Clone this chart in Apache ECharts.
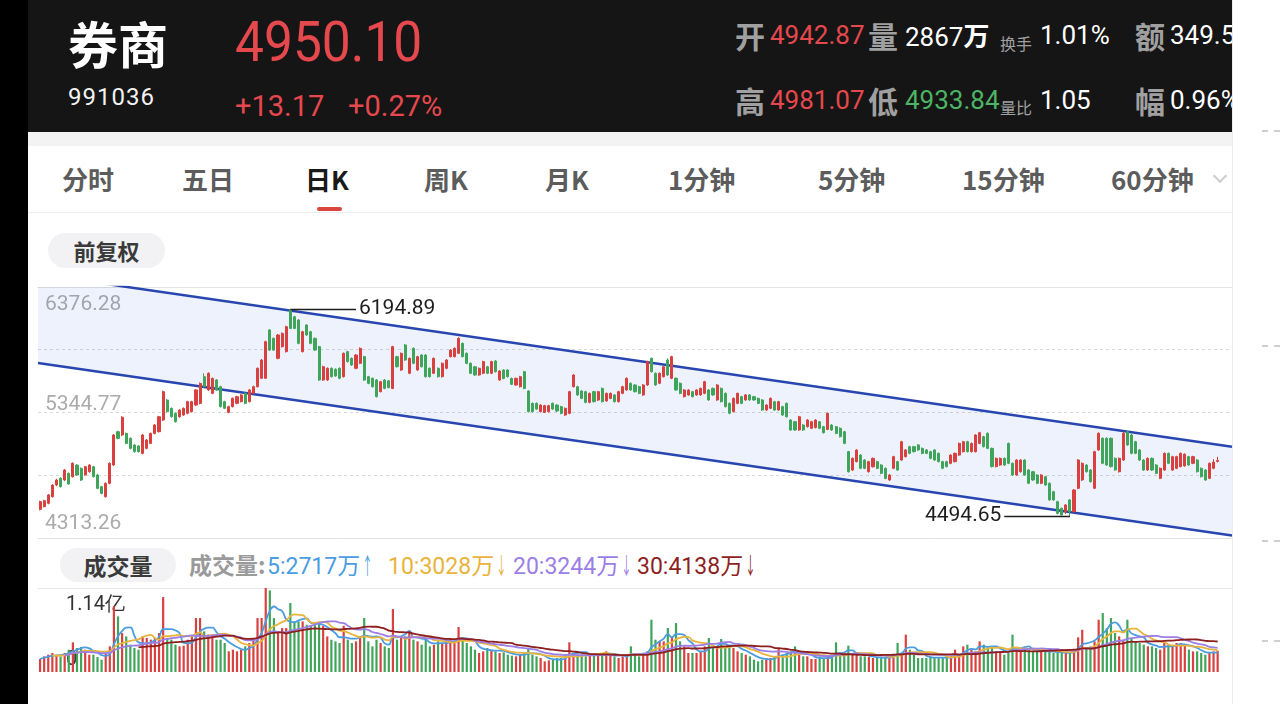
<!DOCTYPE html>
<html>
<head>
<meta charset="utf-8">
<script src="https://cdn.jsdelivr.net/npm/echarts/dist/echarts.min.js"></script>
<style>
html,body{margin:0;padding:0;width:1280px;height:704px;overflow:hidden;background:#fff;font-family:'Noto Sans CJK SC',Roboto,sans-serif;}
.a{position:absolute;white-space:nowrap;line-height:1;}
.n{font-family:Roboto,'Noto Sans CJK SC',sans-serif;}
.lb{font-size:30px;font-weight:700;color:#a0a0a0;}
.v{font-size:26px;}
.sm{font-size:16px;color:#a0a0a0;}
.tab{font-size:26px;font-weight:700;color:#5c5c5c;top:166px;}
.pill{position:absolute;background:#f2f2f4;color:#3a3a3a;font-weight:700;text-align:center;}
.lg{top:553px;font-size:23px;}
.ar{display:inline-block;transform:scaleX(0.45);margin-left:-4px;margin-right:-5px;}
#chart{position:absolute;left:0;top:0;width:1280px;height:704px;}
</style>
</head>
<body>
<div class="a" style="left:0;top:0;width:28px;height:704px;background:#000"></div>
<div class="a" style="left:28px;top:0;width:1204px;height:132px;background:#151515;overflow:hidden">
  <div class="a" style="left:40px;top:17px;font-size:50px;font-weight:700;color:#fff">券商</div>
  <div class="a n" style="left:40px;top:85px;font-size:24px;color:#f2f2f2;letter-spacing:1px">991036</div>
  <div class="a n" style="left:207px;top:14px;font-size:56px;color:#e5484d;transform:scaleX(0.92);transform-origin:left center">4950.10</div>
  <div class="a n" style="left:207px;top:92px;font-size:29px;color:#e5484d">+13.17</div>
  <div class="a n" style="left:320px;top:92px;font-size:29px;color:#e5484d">+0.27%</div>

  <div class="a lb" style="left:707px;top:20px">开</div>
  <div class="a n v" style="left:742px;top:22px;color:#e5484d">4942.87</div>
  <div class="a lb" style="left:840px;top:20px">量</div>
  <div class="a v" style="left:877px;top:22px;color:#fff"><span class="n">2867</span><span style="font-weight:700">万</span></div>
  <div class="a sm" style="left:972px;top:35px">换手</div>
  <div class="a n v" style="left:1012px;top:22px;color:#fff">1.01%</div>
  <div class="a lb" style="left:1107px;top:20px">额</div>
  <div class="a n v" style="left:1142px;top:22px;color:#fff">349.5</div>

  <div class="a lb" style="left:707px;top:85px">高</div>
  <div class="a n v" style="left:742px;top:87px;color:#e5484d">4981.07</div>
  <div class="a lb" style="left:840px;top:85px">低</div>
  <div class="a n v" style="left:877px;top:87px;color:#4cb464">4933.84</div>
  <div class="a sm" style="left:972px;top:99px">量比</div>
  <div class="a n v" style="left:1012px;top:87px;color:#fff">1.05</div>
  <div class="a lb" style="left:1107px;top:85px">幅</div>
  <div class="a n v" style="left:1142px;top:87px;color:#fff">0.96%</div>
</div>
<div class="a" style="left:28px;top:132px;width:1204px;height:14px;background:#f3f3f3"></div>
<div class="a" style="left:1232px;top:0;width:48px;height:704px;background:#fff;border-left:1px solid #ececec"></div>
<div class="a" style="left:1262px;top:130px;width:18px;border-top:2px dashed #cfcfcf"></div>
<div class="a" style="left:1262px;top:345px;width:18px;border-top:2px dashed #cfcfcf"></div>
<div class="a" style="left:1262px;top:540px;width:18px;border-top:2px dashed #cfcfcf"></div>
<div class="a" style="left:1262px;top:640px;width:18px;border-top:2px dashed #cfcfcf"></div>

<div class="a tab" style="left:62px">分时</div>
<div class="a tab" style="left:182px">五日</div>
<div class="a tab" style="left:305px;color:#1a1a1a">日K</div>
<div class="a tab" style="left:424px">周K</div>
<div class="a tab" style="left:545px">月K</div>
<div class="a tab" style="left:668px">1分钟</div>
<div class="a tab" style="left:818px">5分钟</div>
<div class="a tab" style="left:962px">15分钟</div>
<div class="a tab" style="left:1111px">60分钟</div>
<div class="a" style="left:1215px;top:171px;width:8px;height:8px;border-right:2px solid #cccccc;border-bottom:2px solid #cccccc;transform:rotate(45deg)"></div>
<div class="a" style="left:317px;top:207px;width:25px;height:4px;border-radius:2px;background:#d9453f"></div>
<div class="a" style="left:28px;top:212px;width:1204px;height:1px;background:#ededed"></div>

<div class="pill" style="left:48px;top:233px;width:117px;height:35px;line-height:35px;border-radius:18px;font-size:22px">前复权</div>
<div class="pill" style="left:60px;top:548px;width:116px;height:34px;line-height:34px;border-radius:17px;font-size:23px">成交量</div>
<div class="a lg" style="left:189px;color:#9a9a9a;font-weight:700">成交量:</div>
<div class="a lg" style="left:267px;color:#4a9de0"><span class="n">5:2717</span>万<span class="ar">↑</span></div>
<div class="a lg" style="left:388px;color:#e9b33c"><span class="n">10:3028</span>万<span class="ar">↓</span></div>
<div class="a lg" style="left:513px;color:#9b7ee6"><span class="n">20:3244</span>万<span class="ar">↓</span></div>
<div class="a lg" style="left:637px;color:#8e1f1f"><span class="n">30:4138</span>万<span class="ar">↓</span></div>
<div class="a" style="left:38px;top:588px;width:1194px;height:1px;background:#e6e6e6"></div>

<div id="chart"></div>
<script>
// ---------- data ----------
const opens = [
4549,4571,4598,4653,4749,4804,4790,4845,4817,4913,
4886,4831,4858,4899,4831,4735,4653,4762,4913,5187,
5160,5173,5132,5078,5070,5009,5050,5091,5173,5187,
5283,5447,5379,5338,5310,5324,5338,5351,5406,5420,
5639,5530,5502,5612,5557,5434,5346,5393,5420,5434,
5502,5434,5502,5557,5626,5626,6023,5954,5790,5886,
5845,6187,6132,6105,5845,6064,6009,5954,5886,5612,
5612,5708,5700,5708,5639,5845,5790,5708,5749,5804,
5639,5626,5612,5516,5612,5605,5543,5804,5694,5900,
5667,5872,5694,5817,5817,5708,5667,5708,5639,5708,
5804,5804,5831,5913,5831,5749,5721,5653,5667,5721,
5667,5768,5612,5694,5694,5625,5571,5557,5680,5521,
5420,5420,5352,5346,5352,5420,5406,5393,5324,5338,
5557,5557,5521,5516,5428,5516,5447,5543,5440,5461,
5489,5434,5502,5530,5585,5571,5557,5489,5571,5790,
5667,5585,5639,5776,5626,5626,5585,5475,5489,5516,
5489,5489,5502,5530,5543,5448,5543,5502,5420,5352,
5420,5475,5448,5489,5475,5461,5448,5365,5379,5434,
5365,5393,5420,5283,5269,5201,5242,5228,5215,5221,
5269,5228,5206,5242,5228,5215,5187,5023,4872,4941,
4995,4954,4858,4899,4941,4913,4886,4790,4886,4941,
4954,4982,5064,5064,5078,5050,5037,5023,5037,5009,
4941,4941,4927,4941,4995,5023,5105,5023,5023,5091,
5146,5174,5050,4900,4913,4968,5091,4927,4831,4858,
4954,4872,4858,4831,4763,4817,4763,4694,4612,4557,
4530,4626,4530,4722,4790,4913,4872,4722,5037,5133,
5133,5133,4968,4858,4954,5187,5160,5105,5037,4954,
4872,4968,4913,4804,4872,5009,4872,4886,4900,4906,
4982,4927,4954,4886,4872,4804,4886,4942.87
];
const closes = [
4612,4620,4667,4749,4790,4735,4872,4757,4927,4831,
4790,4899,4913,4817,4721,4680,4762,4927,5160,5132,
5305,5091,5050,5023,5023,5160,5119,5173,5242,5310,
5516,5351,5310,5269,5365,5379,5434,5434,5530,5584,
5557,5667,5625,5530,5393,5379,5393,5461,5475,5489,
5420,5530,5557,5708,5776,5927,5858,5858,5982,5995,
6050,6036,6036,5913,6009,5982,5913,5858,5612,5721,
5708,5639,5645,5626,5831,5763,5735,5817,5872,5612,
5584,5557,5475,5598,5543,5550,5886,5721,5831,5776,
5790,5749,5804,5721,5639,5639,5790,5639,5749,5776,
5858,5872,5954,5804,5749,5667,5653,5708,5763,5667,
5763,5680,5686,5625,5639,5576,5625,5639,5543,5352,
5352,5373,5406,5401,5401,5373,5357,5338,5379,5516,
5653,5489,5461,5428,5502,5434,5516,5434,5502,5502,
5434,5516,5557,5626,5530,5516,5502,5571,5763,5680,
5571,5667,5721,5653,5804,5530,5502,5530,5530,5475,
5530,5543,5598,5448,5489,5571,5434,5393,5338,5461,
5502,5420,5489,5448,5448,5420,5365,5406,5461,5365,
5434,5324,5310,5201,5201,5310,5201,5283,5269,5283,
5215,5179,5338,5201,5173,5146,5091,4858,4968,5036,
4886,4886,4941,4968,4886,4845,4803,4831,4982,4872,
5105,5037,5009,5023,5037,5009,5009,4968,4954,4941,
4886,4900,4995,5009,5091,5105,5023,5091,5160,5179,
5064,5050,4900,4968,4968,4913,4927,4831,4954,4954,
4831,4763,4790,4763,4831,4749,4626,4626,4516,4502,
4585,4530,4708,4954,4927,4858,4776,5023,5174,4927,
4913,4900,4872,4968,5174,5078,5009,5009,4954,4872,
4968,4872,4845,4886,5009,4927,4982,4982,5009,5002,
4913,4982,4858,4817,4790,4927,4936.93,4950.10
];
const lows = [
4540,4565,4590,4645,4740,4728,4780,4750,4810,4825,
4782,4825,4850,4810,4715,4672,4645,4755,4905,5125,
5150,5085,5042,5015,5015,5000,5042,5085,5165,5180,
5275,5345,5302,5262,5302,5317,5330,5345,5398,5412,
5550,5522,5495,5522,5386,5372,5338,5386,5412,5427,
5412,5427,5495,5550,5620,5620,5850,5850,5782,5878,
5838,6030,6030,5905,5838,5975,5905,5850,5605,5605,
5605,5632,5638,5618,5632,5755,5728,5700,5742,5605,
5577,5550,5468,5510,5536,5543,5536,5715,5687,5770,
5660,5742,5687,5715,5632,5632,5660,5632,5632,5700,
5797,5797,5825,5797,5742,5660,5646,5646,5660,5660,
5660,5673,5605,5618,5632,5570,5564,5550,5536,5345,
5345,5366,5345,5340,5345,5366,5350,5330,5317,5330,
5550,5482,5454,5420,5420,5427,5440,5427,5433,5454,
5427,5427,5495,5523,5523,5509,5495,5482,5564,5673,
5564,5578,5632,5646,5619,5523,5495,5468,5482,5468,
5482,5482,5495,5441,5482,5441,5427,5386,5331,5345,
5413,5413,5441,5441,5441,5413,5358,5358,5372,5358,
5358,5317,5303,5194,5194,5194,5194,5221,5208,5214,
5208,5172,5199,5194,5166,5139,5084,4851,4865,4934,
4879,4879,4851,4892,4879,4838,4796,4783,4879,4865,
4947,4975,5002,5016,5030,5002,5002,4961,4947,4934,
4879,4893,4920,4934,4988,5016,5016,5016,5016,5084,
5057,5043,4893,4893,4906,4906,4920,4824,4824,4851,
4824,4756,4783,4756,4756,4742,4619,4619,4509,4500,
4510,4494.65,4523,4715,4783,4851,4769,4715,5030,4920,
4906,4893,4865,4851,4947,5071,5002,5002,4947,4865,
4865,4865,4838,4797,4865,4920,4865,4879,4893,4899,
4906,4920,4851,4810,4783,4797,4879,4933.84
];
const highs = [
4620,4628,4675,4755,4800,4812,4880,4852,4935,4920,
4893,4906,4920,4906,4840,4742,4770,4935,5168,5195,
5315,5180,5140,5085,5078,5168,5126,5180,5250,5318,
5525,5455,5386,5345,5372,5386,5441,5441,5538,5592,
5667,5675,5632,5620,5565,5441,5400,5468,5482,5496,
5510,5538,5565,5715,5784,5935,6030,5962,5990,6003,
6058,6194.89,6140,6112,6016,6071,6016,5962,5893,5729,
5715,5715,5708,5715,5838,5852,5797,5825,5880,5811,
5646,5632,5620,5605,5620,5612,5893,5811,5838,5907,
5797,5880,5811,5825,5825,5715,5797,5715,5756,5784,
5865,5880,5965,5920,5838,5756,5728,5715,5770,5728,
5770,5775,5693,5700,5700,5632,5632,5646,5687,5528,
5427,5427,5413,5408,5408,5427,5413,5400,5386,5523,
5660,5564,5528,5523,5509,5523,5523,5550,5509,5509,
5496,5523,5564,5633,5592,5578,5564,5578,5770,5797,
5674,5674,5728,5790,5811,5633,5592,5537,5537,5523,
5537,5550,5605,5537,5550,5578,5550,5509,5427,5468,
5509,5482,5496,5496,5482,5468,5455,5413,5468,5441,
5441,5400,5427,5290,5276,5317,5249,5290,5276,5290,
5276,5235,5345,5249,5235,5222,5194,5030,4975,5043,
5002,4961,4948,4975,4948,4920,4893,4838,4989,4948,
5112,5044,5071,5071,5085,5057,5044,5030,5044,5016,
4948,4948,5002,5016,5098,5112,5112,5098,5167,5186,
5153,5181,5057,4975,4975,4975,5098,4934,4961,4961,
4961,4879,4865,4838,4838,4824,4770,4701,4619,4564,
4592,4633,4715,4961,4934,4920,4879,5030,5181,5140,
5140,5140,4975,4975,5187,5190,5167,5112,5044,4961,
4975,4975,4920,4893,5016,5016,4989,4989,5016,5009,
4989,4989,4961,4893,4879,4934,4961,4981.07
];
// volume in 万
const volumes = [
1763,2124,2350,2576,2350,2124,2576,3028,4023,3254,
3390,3028,2350,2350,2034,1672,2576,3480,8904,7548,
5288,4836,3706,3254,3028,4836,4610,4384,4610,5288,
10170,4610,4384,3706,3480,3571,4384,4836,7322,7322,
5514,5062,4836,4384,4384,3932,2802,3028,2802,3028,
3480,3932,4384,7322,7322,11400,11074,7322,5514,5966,
5966,9356,6870,6870,6870,6418,6283,6418,6644,6283,
4836,4384,4158,3932,6283,4384,3932,4158,4836,7322,
4158,3480,4384,3932,3480,3254,8543,4384,4610,4836,
5514,4384,4158,3706,4384,3480,3706,4158,3932,4158,
4384,3932,6102,4384,3932,3480,3028,2576,2802,3254,
3028,2802,2576,2667,2350,2215,2124,2350,2576,3254,
2350,2124,1898,1446,1582,1672,1898,1898,2124,4023,
2576,2350,2350,2124,2350,2350,2350,2576,2802,2350,
2124,1898,2124,2124,3480,2350,2124,2350,2802,7096,
4384,4158,4158,5966,4836,6644,4158,3480,2576,2576,
2576,2802,3480,4610,3254,3254,4475,3480,3571,3254,
2802,2576,2350,2124,1672,1446,1672,1898,1898,2124,
3119,2350,2576,2802,3480,2350,2124,2124,1763,1763,
1898,1898,2124,2350,4023,2350,2350,3571,2350,2350,
2124,2124,2034,1898,1898,1898,1898,2124,2350,3932,
2350,5062,3028,2350,1898,1898,1898,2124,1898,1898,
1898,1898,2124,3028,2350,3480,3706,3028,2802,4158,
3706,3254,3480,2802,2802,2350,2576,5062,3028,3028,
3254,3028,2802,2802,2802,2802,2802,2576,2576,2576,
2576,2667,3028,4701,5740,3254,3480,4158,7096,8000,
5966,7322,5288,4836,4384,7096,4610,4158,3932,3706,
3480,3480,3254,3028,3932,3706,3480,3932,3932,3706,
3028,2802,2802,2576,2350,2576,2802,2867
];
const slotCount = 291;               // trading-day slots on the x axis (last few empty)
const priceTicks = [4313.26, 5344.77, 6376.28];
const volumeTop = 11400;             // 1.14亿
const volumeTickLabels = ['0', '1.14亿'];
const peakMark = [61, 6194.89, 77];  // [day index, price, label end index]
const troughMark = [251, 4494.65, 235];
const channelX = [-0.5, 290.5];
const channelUpper = [6482.3, 5063.7];
const channelLower = [5751.6, 4333.8];
const maPeriods = [5, 10, 20, 30];
const maStart = [0, 3, 6, 24];
const maColors = ['#4a9de0', '#e9b33c', '#9b7ee6', '#8e1f1f'];

// ---------- chart ----------
const RED = '#d8413f', GREEN = '#3fa55b';
const slots = Array.from({length: slotCount}, (_, i) => i);
const candles = opens.map((o, i) => [o, closes[i], lows[i], highs[i]]);
const volBars = volumes.map((v, i) => ({value: v, itemStyle: {color: closes[i] >= opens[i] ? RED : GREEN}}));
function movingAverage(n, from) {
  return volumes.map((_, i) => {
    if (i < from) return '-';
    const a = Math.max(0, i - n + 1);
    let s = 0;
    for (let j = a; j <= i; j++) s += volumes[j];
    return +(s / (i - a + 1)).toFixed(1);
  });
}
const pMin = priceTicks[0], pMax = priceTicks[2];
const pStep = (pMax - pMin) / 4;
const labelFont = {fontFamily: 'Roboto', fontSize: 21};
const volFont = {fontFamily: 'Roboto', fontSize: 20};

const chart = echarts.init(document.getElementById('chart'));
const option = {
  animation: false,
  backgroundColor: 'transparent',
  grid: [
    {left: 38, top: 287, width: 1194, height: 251},
    {left: 38, top: 588, width: 1194, height: 84}
  ],
  xAxis: [
    {type: 'category', gridIndex: 0, data: slots, boundaryGap: true,
     axisLine: {show: true, onZero: false, lineStyle: {color: '#e2e2e2'}},
     axisTick: {show: false}, axisLabel: {show: false}, splitLine: {show: false}},
    {type: 'value', gridIndex: 0, min: channelX[0], max: channelX[1], position: 'top',
     axisLine: {show: true, onZero: false, lineStyle: {color: '#e2e2e2'}},
     axisTick: {show: false}, axisLabel: {show: false}, splitLine: {show: false}},
    {type: 'category', gridIndex: 1, data: slots, boundaryGap: true, show: false}
  ],
  yAxis: [
    {type: 'value', gridIndex: 0, min: pMin, max: pMax, interval: pStep,
     axisLine: {show: false}, axisTick: {show: false},
     splitLine: {show: true, showMinLine: false, showMaxLine: false, lineStyle: {color: '#d9d9d9', type: [3, 3]}},
     axisLabel: {inside: true, margin: 7, showMinLabel: true, showMaxLabel: true, color: '#ababab', ...labelFont,
       formatter: (v) => {
         const t = priceTicks.find(p => Math.abs(p - v) < 0.5);
         if (t === undefined) return '';
         const key = t === pMax ? 'top' : (t === pMin ? 'bot' : 'mid');
         return '{' + key + '|' + t.toFixed(2) + '}';
       },
       rich: {
         top: {padding: [36, 0, 0, 0], color: '#ababab', ...labelFont},
         mid: {padding: [0, 0, 15, 0], color: '#ababab', ...labelFont},
         bot: {padding: [0, 0, 28, 0], color: '#ababab', ...labelFont}
       }}},
    {type: 'value', gridIndex: 1, min: 0, max: volumeTop, interval: volumeTop,
     axisLine: {show: false}, axisTick: {show: false}, splitLine: {show: false},
     axisLabel: {inside: true, margin: 28, showMinLabel: true, showMaxLabel: true, color: '#333', ...volFont,
       formatter: (v) => v === 0 ? '{bot|' + volumeTickLabels[0] + '}' : '{top|' + volumeTickLabels[1] + '}',
       rich: {
         top: {padding: [34, 0, 0, 0], color: '#333', ...volFont},
         bot: {padding: [0, 0, 24, 0], color: '#333', ...volFont}
       }}}
  ],
  series: [
    {type: 'custom', xAxisIndex: 1, yAxisIndex: 0, clip: true, silent: true, z: 1,
     data: [[channelX[0], channelLower[0]]],
     renderItem: (params, api) => {
       const pts = [
         api.coord([channelX[0], channelUpper[0]]), api.coord([channelX[1], channelUpper[1]]),
         api.coord([channelX[1], channelLower[1]]), api.coord([channelX[0], channelLower[0]])
       ];
       return {type: 'polygon', shape: {points: pts}, style: {fill: 'rgba(60,110,225,0.085)'}};
     }},
    {type: 'line', xAxisIndex: 1, yAxisIndex: 0, silent: true, symbol: 'none', z: 2,
     data: channelX.map((x, i) => [x, channelUpper[i]]),
     lineStyle: {color: '#2846b0', width: 2.5}},
    {type: 'line', xAxisIndex: 1, yAxisIndex: 0, silent: true, symbol: 'none', z: 2,
     data: channelX.map((x, i) => [x, channelLower[i]]),
     lineStyle: {color: '#2846b0', width: 2.5}},
    {type: 'candlestick', xAxisIndex: 0, yAxisIndex: 0, data: candles, barWidth: 2.6, z: 3,
     itemStyle: {color: RED, color0: GREEN, borderColor: RED, borderColor0: GREEN, borderWidth: 1},
     markLine: {
       silent: true, symbol: ['none', 'none'], animation: false,
       lineStyle: {color: '#1e1e1e', width: 1.3, type: 'solid'},
       label: {show: true, position: 'end', formatter: '{b}', color: '#1e1e1e', distance: 3, ...labelFont},
       emphasis: {disabled: true},
       data: [
         [{name: peakMark[1].toFixed(2), coord: [peakMark[0], peakMark[1]]},
          {name: peakMark[1].toFixed(2), coord: [peakMark[2], peakMark[1]]}],
         [{name: troughMark[1].toFixed(2), coord: [troughMark[0], troughMark[1]]},
          {name: troughMark[1].toFixed(2), coord: [troughMark[2], troughMark[1]]}]
       ]
     }},
    {type: 'bar', xAxisIndex: 2, yAxisIndex: 1, data: volBars, barWidth: 2.2, silent: true, z: 2}
  ].concat(maPeriods.map((n, k) => ({
    type: 'line', xAxisIndex: 2, yAxisIndex: 1, smooth: true, symbol: 'none', silent: true, z: 3 + k,
    data: movingAverage(n, maStart[k]),
    lineStyle: {color: maColors[k], width: 1.8}
  })))
};
chart.setOption(option);
</script>
</body>
</html>
